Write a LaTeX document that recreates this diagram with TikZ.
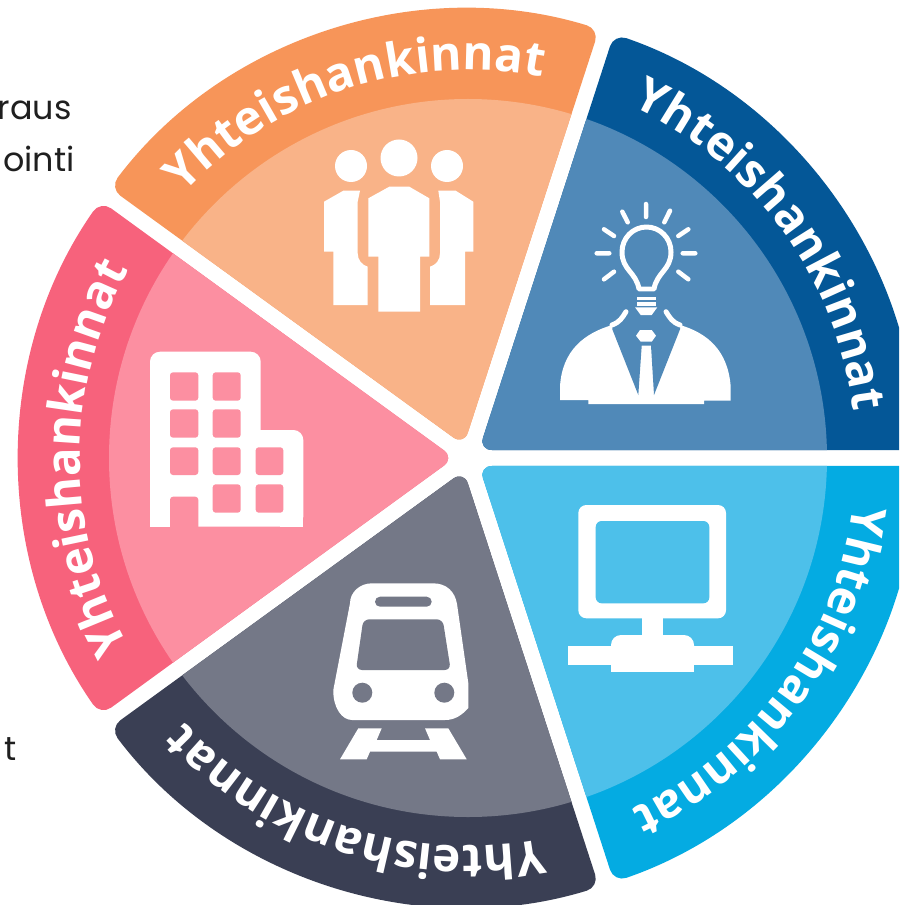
\documentclass[tikz,border=0pt]{standalone}
\usepackage{fontspec}
\setmainfont{Poppins}
\newfontfamily\bannerfont{Open Sans}
\usetikzlibrary{decorations.text}
\definecolor{orD}{HTML}{F79559}\definecolor{orL}{HTML}{F9B388}
\definecolor{nvD}{HTML}{045797}\definecolor{nvL}{HTML}{5089B8}
\definecolor{skD}{HTML}{04ABE2}\definecolor{skL}{HTML}{4DC0EA}
\definecolor{grD}{HTML}{3A3F54}\definecolor{grL}{HTML}{747887}
\definecolor{pkD}{HTML}{F7627C}\definecolor{pkL}{HTML}{FC8FA1}
\tikzset{
  icon/.style={fill=white,draw=none},
  iconline/.style={draw=white,line width=.1cm,line cap=round,line join=round},
  sidetext/.style={anchor=base east,inner sep=0pt,text=black!88,font=\fontsize{19}{22}\selectfont},
}
\newcommand{\wheelsector}[3]{%
  \begin{scope}
    \path[clip,rounded corners=.26cm] (#1:13.6) -- ({#1-35}:448.5)
      arc[start angle=#1-35,end angle=#1+35,radius=448.5] -- cycle;
    \fill[#2] (0,0) circle[radius=452];
    \fill[#3] (0,0) circle[radius=359];
  \end{scope}
  \path[decorate,decoration={text along path,text align=center,
     text={|\color{white}\bannerfont\bfseries\fontsize{27}{30}\selectfont|Yhteishankinnat}}]
     ({#1+31}:388) arc[start angle=#1+31,delta angle=-62,radius=388];
}
\begin{document}
\begin{tikzpicture}[x=.02cm,y=-.02cm]
\clip (0,0) rectangle (899,905);
\fill[white] (0,0) rectangle (899,905);
\node[sidetext] (t1) at (72,120) {raus};
\node[sidetext] (t2) at (75,172) {ointi};
\node[sidetext] (t3) at (17,760) {t};
\begin{scope}[shift={(468,458)},x=.02cm,y=.02cm]
  \wheelsector{108}{orD}{orL}
  \wheelsector{36}{nvD}{nvL}
  \wheelsector{-36}{skD}{skL}
  \wheelsector{-108}{grD}{grL}
  \wheelsector{180}{pkD}{pkL}
\end{scope}
% people
\fill[icon] (399,158) circle[radius=18.5] (351,166) circle[radius=16] (447,166) circle[radius=16];
\fill[icon] (389.3,186.7)--(409.3,186.7)--(429.3,198.3)--(429.3,256.7)--(420,256.7)--(420,311.7)--(378.3,311.7)--(378.3,256.7)--(368.3,256.7)--(368.3,198.3)--cycle;
\fill[icon] (343.3,190.7)--(360,190.7)--(357.7,201.7)--(357.7,253.3) .. controls (357.7,260) and (362,265) .. (367.7,266.7)--(367.7,305)--(333.3,305)--(333.3,251.7)--(324,251.7)--(324,201.7)--cycle;
\fill[icon] (438.3,190.7)--(455.7,190.7)--(473.3,201.7)--(473.3,251.7)--(465,251.7)--(465,305)--(430,305)--(430,266.7) .. controls (436,265) and (440,260) .. (440,253.3)--(440,201.7)--cycle;
% idea person
\draw[iconline] (639,289) .. controls (636,272) and (622,270) .. (622,252) .. controls (622,238) and (633,227) .. (646.5,227) .. controls (660,227) and (671,238) .. (671,252) .. controls (671,270) and (657,272) .. (654,289) -- cycle;
\draw[iconline,line width=.09cm] (646,204)--(646,217) (622.3,211.7)--(627.7,222.3) (670,210.7)--(664.3,222.3) (604,229.3)--(614,236) (688.3,229.3)--(678.3,236) (596.7,253.3)--(609.3,253.3) (682.7,253.3)--(695.3,253.3) (604,279.3)--(614,271.7) (688.3,279.3)--(678.3,271.7);
\draw[iconline,line width=.07cm,line cap=butt] (637.3,298.3)--(656,298.3) (637.3,304)--(656,304);
\fill[icon] (635,307.3)--(657.3,307.3)--(651.7,315)--(640.7,315)--cycle;
\fill[icon] (612.3,325) .. controls (585,333) and (562,350) .. (560,386.7)--(560,400)--(588.3,400)--(588.3,404)--(704,404)--(704,400.7)--(730.7,400.7)--(730.7,386.7) .. controls (728,350) and (707,333) .. (680,325)--cycle;
\fill[nvL] (612.3,329.3)--(638.3,395)--(641.7,345.7)--(651,345.7)--(654,395)--(680,329.3)--(680,318)--(612.3,318)--cycle;
\draw[iconline] (626,311.7) .. controls (622,318) and (620,322) .. (612,325);
\draw[iconline] (666,311.7) .. controls (670,318) and (672,322) .. (680,325);
\fill[icon] (640,330)--(651.7,330)--(656,335.7)--(651.7,341.7)--(640.7,341.7)--(636,335.7)--cycle;
% building
\fill[icon,rounded corners=.2cm] (150,526.7)--(150,351.7)--(260.7,351.7)--(260.7,430)[sharp corners]--(260.7,430)[rounded corners=.2cm]--(303.3,430)--(303.3,526.7)[sharp corners]--cycle;
\fill[icon] (280,500) rectangle (303.3,526.7);
\fill[icon] (150,500) rectangle (170,526.7);
\foreach \xa/\xb/\ya/\yb in {170/198.3/372.3/400.7,212.7/240.7/372.3/400.7,170/198.3/409.3/437.7,212.7/240.7/409.3/437.7,170/198.3/447.3/475,212.7/240.7/447.3/475,255.7/283.3/447.3/475,212.7/240.7/484.3/512.7,255.7/283.3/484.3/512.7}
  \fill[pkL,rounded corners=.06cm] (\xa,\ya) rectangle (\xb,\yb);
\fill[pkL,rounded corners=.06cm] (170,535)--(170,496.7)--(198.3,496.7)--(198.3,535)--cycle;
% train
\fill[icon] (372,583.3)--(433,583.3) .. controls (447,583.3) and (455,592) .. (457,604)--(468.3,683)--(468.3,708) .. controls (462,715) and (455,720) .. (445,720)--(352,720) .. controls (342,720) and (333,708) .. (333.3,690)--(350,603.3) .. controls (350,592) and (360,583.3) .. (372,583.3)--cycle;
\fill[grL,rounded corners=.1cm] (375,596.7) rectangle (431.7,606.7);
\fill[grL,rounded corners=.12cm] (363.3,619.3)--(442.7,619.3)--(450.7,670)--(356,670)--cycle;
\fill[grL] (362.3,692.7) circle[radius=10] (444.3,692.7) circle[radius=10];
\fill[icon] (358.3,728.3)--(381.7,728.3)--(376.7,740)--(430,740)--(425,728.3)--(448.3,728.3)--(466.7,759.3)--(440,759.3)--(436.7,751.7)--(370,751.7)--(366.7,759.3)--(340,759.3)--cycle;
% monitor
\fill[icon,rounded corners=.16cm] (578.3,505) rectangle (726,618.3);
\fill[skL,rounded corners=.12cm] (595.7,521) rectangle (709.3,603.3);
\fill[icon] (642.3,618) rectangle (663.3,637);
\fill[icon,rounded corners=.2cm] (611,671.7)--(611,635)--(694,635)--(694,671.7)[sharp corners]--cycle;
\fill[icon] (611,650) rectangle (694,671.7);
\fill[icon] (568.3,646) rectangle (732.7,665);
\end{tikzpicture}
\end{document}
